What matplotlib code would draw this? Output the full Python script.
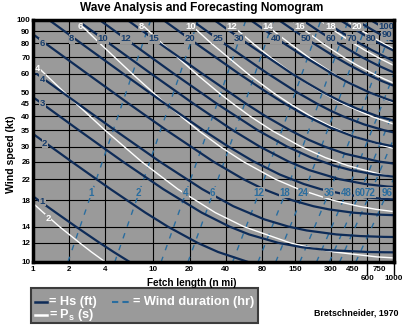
import matplotlib
matplotlib.use("Agg")
import matplotlib.pyplot as plt
from matplotlib.lines import Line2D
from matplotlib.patches import Rectangle
from matplotlib.ticker import NullLocator

plt.rcParams['font.family'] = ['Liberation Sans', 'DejaVu Sans']
plt.rcParams['font.weight'] = 'bold'
plt.rcParams['mathtext.fontset'] = 'custom'
plt.rcParams['mathtext.bf'] = 'Liberation Sans:bold'
plt.rcParams['mathtext.rm'] = 'Liberation Sans:bold'

# wave height curves, Hs in ft: fetch (n mi) vs wind speed (kt)
hs1_fetch = [0.83, 1.11, 1.55, 2.27, 3.58, 4.68, 6.37, 9.24]
hs1_wind = [20, 18, 16, 14, 12, 11, 10, 9]
hs2_fetch = [0.91, 1.40, 2.09, 4.41, 8.58, 13.2, 23.3, 34.5, 61.4, 99]
hs2_wind = [35, 30, 26, 20, 16, 14, 12, 11, 10, 9.5]
hs3_fetch = [0.89, 1.20, 2.41, 5.57, 12.1, 25.2, 43.0, 62.5, 109, 173, 281, 608, 840, 1456]
hs3_wind = [50, 45, 35, 26, 20, 16, 14, 13, 12, 11.5, 11.2, 11, 10.97, 10.95]
hs4_fetch = [0.70, 1.07, 2.38, 4.81, 11.3, 25.5, 46.2, 83.7, 133, 188, 332, 520, 820, 1243]
hs4_wind = [70, 60, 45, 35, 26, 20, 17, 15, 14, 13.5, 13, 12.8, 12.7, 12.66]
hs6_fetch = [0.92, 1.27, 2.82, 6.29, 12.9, 31.5, 55.9, 82.3, 142, 214, 288, 451, 735, 1261]
hs6_wind = [90, 80, 60, 45, 35, 26, 22, 20, 18, 17, 16.5, 16, 15.7, 15.55]
hs8_fetch = [1.36, 2.52, 5.61, 12.6, 26.1, 42.0, 68.4, 112, 178, 246, 397, 586, 859, 1387]
hs8_wind = [100, 80, 60, 45, 35, 30, 26, 23, 21, 20, 19, 18.5, 18.2, 18.0]
hs10_fetch = [2.32, 4.30, 9.58, 21.7, 45.9, 76.4, 133, 196, 350, 575, 881, 1411]
hs10_wind = [100, 80, 60, 45, 35, 30, 26, 24, 22, 21, 20.5, 20.2]
hs12_fetch = [3.58, 6.64, 14.8, 33.9, 73.9, 129, 205, 318, 435, 692, 1012]
hs12_wind = [100, 80, 60, 45, 35, 30, 27, 25, 24, 23, 22.5]
hs15_fetch = [6.09, 11.3, 25.5, 59.3, 85.9, 137, 195, 264, 393, 750, 1124]
hs15_wind = [100, 80, 60, 45, 40, 35, 32, 30, 28, 26, 25.3]
hs20_fetch = [12.1, 22.6, 51.4, 89.0, 125, 189, 292, 461, 721, 1008]
hs20_wind = [100, 80, 60, 50, 45, 40, 36, 33, 31, 30]
hs25_fetch = [20.7, 38.7, 89.5, 159, 231, 303, 376, 566, 831, 1082]
hs25_wind = [100, 80, 60, 50, 45, 42, 40, 37, 35, 34]
hs30_fetch = [32.0, 60.3, 142, 189, 263, 364, 494, 736, 1075]
hs30_wind = [100, 80, 60, 55, 50, 46, 43, 40, 38]
hs40_fetch = [64.1, 86.7, 122, 184, 306, 422, 636, 883, 1008]
hs40_wind = [100, 90, 80, 70, 60, 55, 50, 47, 46]
hs50_fetch = [110, 150, 215, 330, 428, 582, 789, 947, 1049]
hs50_wind = [100, 90, 80, 70, 65, 60, 56, 54, 53]
hs60_fetch = [173, 237, 344, 546, 731, 901, 1056]
hs60_wind = [100, 90, 80, 70, 65, 62, 60]
hs70_fetch = [254, 352, 520, 657, 864, 979, 1048]
hs70_wind = [100, 90, 80, 75, 70, 68, 67]
hs80_fetch = [356, 499, 607, 757, 978, 1036]
hs80_wind = [100, 90, 85, 80, 75, 74]
hs90_fetch = [483, 571, 687, 846, 972, 1021]
hs90_wind = [100, 95, 90, 85, 82, 81]
hs100_fetch = [638, 760, 925, 1007]
hs100_wind = [100, 95, 90, 88]

# wave period curves, Ps in s
ps2_fetch = [0.46, 0.74, 1.22, 1.66, 2.44, 3.06, 3.99, 4.64]
ps2_wind = [25, 20, 16, 14, 12, 11, 10, 9.5]
ps4_fetch = [0.91, 1.25, 2.30, 3.98, 7.97, 16.0, 32.7, 56.4, 137, 196, 318, 718, 1351]
ps4_wind = [70, 60, 45, 35, 26, 20, 16, 14, 12, 11.5, 11, 10.5, 10.3]
ps6_fetch = [2.26, 3.60, 6.66, 12.7, 23.6, 35.9, 55.8, 103, 161, 309, 507, 714, 1152]
ps6_wind = [100, 80, 60, 45, 35, 30, 26, 22, 20, 18, 17, 16.5, 16]
ps8_fetch = [7.34, 11.8, 22.6, 35.1, 46.1, 63.8, 96.1, 168, 269, 415, 782, 1271]
ps8_wind = [100, 80, 60, 50, 45, 40, 35, 30, 27, 25, 23, 22]
ps10_fetch = [18.5, 30.4, 60.9, 99.7, 137, 204, 311, 472, 858, 1129]
ps10_wind = [100, 80, 60, 50, 45, 40, 36, 33, 30, 29]
ps12_fetch = [39.9, 67.4, 94.3, 144, 186, 255, 377, 645, 1018]
ps12_wind = [100, 80, 70, 60, 55, 50, 45, 40, 37]
ps14_fetch = [77.7, 100, 136, 196, 315, 428, 631, 947, 1071]
ps14_wind = [100, 90, 80, 70, 60, 55, 50, 46, 45]
ps16_fetch = [141, 185, 255, 384, 495, 670, 833, 983, 1076]
ps16_wind = [100, 90, 80, 70, 65, 60, 57, 55, 54]
ps18_fetch = [241, 323, 462, 573, 735, 931, 1063]
ps18_wind = [100, 90, 80, 75, 70, 66, 64]
ps20_fetch = [399, 464, 548, 661, 817, 993, 1047]
ps20_wind = [100, 95, 90, 85, 80, 76, 75]

# wind duration lines, hr
dur_wind = [10, 20, 40, 100]
dur1_fetch = [1.95, 3.15, 5.08, 9.51]
dur2_fetch = [4.78, 7.79, 12.6, 23.7]
dur4_fetch = [11.6, 19.1, 31.2, 58.8]
dur6_fetch = [19.4, 32.2, 52.8, 100]
dur12_fetch = [45.6, 77.6, 129, 247]
dur18_fetch = [74.1, 129, 216, 418]
dur24_fetch = [104, 183, 310, 605]
dur36_fetch = [165, 296, 514, 1017]
dur48_fetch = [227, 415, 730, 999, 1123]
dur48_wind = [10, 20, 40, 60, 70]
dur60_fetch = [290, 536, 954, 1050]
dur60_wind = [10, 20, 40, 45]
dur72_fetch = [353, 659, 932, 1064]
dur72_wind = [10, 20, 30, 35]
dur96_fetch = [481, 657, 909, 1068]
dur96_wind = [10, 14, 20, 24]

# curve labels
hs_labels = ['1', '2', '3', '4', '6', '8', '10', '12', '15', '20', '25', '30',
             '40', '50', '60', '70', '80', '90', '100']
hs_label_fetch = [1.2, 1.25, 1.2, 1.2, 1.2, 2.1, 3.8, 5.9, 10.1, 20, 34.5, 52,
                  105, 185, 298, 445, 640, 870, 870]
hs_label_wind = [17.8, 31, 45, 57, 80, 83.5, 83.5, 83.5, 83.5, 83.5, 83.5, 83.5,
                 83.5, 83.5, 83.5, 83.5, 83.5, 87, 94]
ps_labels = ['2', '4', '6', '8', '10', '12', '14', '16', '18', '20']
ps_label_fetch = [1.33, 1.1, 2.45, 7.9, 20.3, 45, 89, 165, 295, 495]
ps_label_wind = [15.1, 63.3, 94, 94, 94, 94, 94, 94, 94, 94]
dur_labels = ['1', '2', '4', '6', '12', '18', '24', '36', '48', '60', '72', '96']
dur_label_fetch = [3.05, 7.55, 18.5, 31.2, 75, 124, 177, 287, 402, 520, 638, 880]
dur_label_wind = 19.3

x_ticks = [1, 2, 4, 10, 20, 40, 80, 150, 300, 450, 750]
x_ticks_low = [600, 1000]
y_ticks = [10, 12, 14, 18, 22, 26, 30, 35, 40, 45, 50, 60, 70, 80, 90, 100]

hs_curves = [(hs1_fetch, hs1_wind), (hs2_fetch, hs2_wind), (hs3_fetch, hs3_wind),
             (hs4_fetch, hs4_wind), (hs6_fetch, hs6_wind), (hs8_fetch, hs8_wind),
             (hs10_fetch, hs10_wind), (hs12_fetch, hs12_wind), (hs15_fetch, hs15_wind),
             (hs20_fetch, hs20_wind), (hs25_fetch, hs25_wind), (hs30_fetch, hs30_wind),
             (hs40_fetch, hs40_wind), (hs50_fetch, hs50_wind), (hs60_fetch, hs60_wind),
             (hs70_fetch, hs70_wind), (hs80_fetch, hs80_wind), (hs90_fetch, hs90_wind),
             (hs100_fetch, hs100_wind)]
ps_curves = [(ps2_fetch, ps2_wind), (ps4_fetch, ps4_wind), (ps6_fetch, ps6_wind),
             (ps8_fetch, ps8_wind), (ps10_fetch, ps10_wind), (ps12_fetch, ps12_wind),
             (ps14_fetch, ps14_wind), (ps16_fetch, ps16_wind), (ps18_fetch, ps18_wind),
             (ps20_fetch, ps20_wind)]
dur_curves = [(dur1_fetch, dur_wind), (dur2_fetch, dur_wind), (dur4_fetch, dur_wind),
              (dur6_fetch, dur_wind), (dur12_fetch, dur_wind), (dur18_fetch, dur_wind),
              (dur24_fetch, dur_wind), (dur36_fetch, dur_wind), (dur48_fetch, dur48_wind),
              (dur60_fetch, dur60_wind), (dur72_fetch, dur72_wind), (dur96_fetch, dur96_wind)]

BG = '#9a9a9a'
NAVY = '#0e2b57'
NAVY_TXT = '#173d6c'
DUR = '#2a6d9f'

fig = plt.figure(figsize=(4.1, 3.3), dpi=100)
ax = fig.add_axes([33 / 410, 68 / 330, 361 / 410, 242 / 330])
ax.set_xscale('log')
ax.set_yscale('log')
ax.set_xlim(1, 1000)
ax.set_ylim(10, 100)
ax.set_facecolor(BG)
ax.set_axisbelow(True)

for f, u in dur_curves:
    ax.plot(f, u, color=DUR, lw=1.0, linestyle=(0, (4, 5)), zorder=2)
for f, u in ps_curves:
    ax.plot(f, u, color='white', lw=1.0, zorder=3)
for f, u in hs_curves:
    ax.plot(f, u, color=NAVY, lw=1.6, zorder=4)

box = dict(boxstyle='square,pad=0.05', fc=BG, ec='none')
for s, f, u in zip(hs_labels, hs_label_fetch, hs_label_wind):
    ax.text(f, u, s, color=NAVY_TXT, fontsize=6.8, ha='center', va='center', bbox=box, zorder=6)
for s, f, u in zip(ps_labels, ps_label_fetch, ps_label_wind):
    ax.text(f, u, s, color='white', fontsize=6.8, ha='center', va='center', bbox=box, zorder=6)
for s, f in zip(dur_labels, dur_label_fetch):
    ax.text(f, dur_label_wind, s, color=DUR, fontsize=7, ha='center', va='center',
            bbox=box, zorder=6)

ax.set_xticks(x_ticks)
ax.set_xticklabels([str(v) for v in x_ticks])
ax.set_xticks(x_ticks_low, minor=True)
ax.set_xticklabels([str(v) for v in x_ticks_low], minor=True)
ax.set_yticks(y_ticks)
ax.set_yticklabels([str(v) for v in y_ticks])
ax.yaxis.set_minor_locator(NullLocator())
ax.tick_params(axis='x', which='major', length=0, pad=3, labelsize=5.8)
ax.tick_params(axis='x', which='minor', length=9, width=1, pad=0.5, labelsize=5.8)
ax.tick_params(axis='y', which='both', length=0, pad=2, labelsize=5.8)
ax.grid(True, which='both', axis='x', color='black', lw=0.8)
ax.grid(True, which='major', axis='y', color='black', lw=0.8)
for sp in ax.spines.values():
    sp.set_linewidth(2.5)
    sp.set_zorder(7)

fig.text(0.493, 0.976, 'Wave Analysis and Forecasting Nomogram', ha='center', va='center',
         fontsize=8.6)
fig.text(0.026, 0.533, 'Wind speed (kt)', rotation=90, ha='center', va='center', fontsize=7.6)
fig.text(0.468, 0.142, 'Fetch length (n mi)', ha='center', va='center', fontsize=7.2)
fig.text(0.868, 0.052, 'Bretschneider, 1970', ha='center', va='center', fontsize=6.4)

# legend box
fig.patches.append(Rectangle((31 / 410, 7 / 330), 227 / 410, 35 / 330, transform=fig.transFigure,
                             fc=BG, ec='#3c3c3c', lw=1.5))
fig.lines.append(Line2D([35 / 410, 47 / 410], [0.085, 0.085], transform=fig.transFigure,
                        color=NAVY, lw=1.8))
fig.lines.append(Line2D([112 / 410, 130 / 410], [0.085, 0.085], transform=fig.transFigure,
                        color=DUR, lw=1.5, linestyle=(0, (3, 2))))
fig.lines.append(Line2D([35 / 410, 47 / 410], [0.046, 0.046], transform=fig.transFigure,
                        color='white', lw=1.8))
fig.text(49 / 410, 0.085, '= Hs (ft)', color='white', fontsize=9.2, va='center')
fig.text(133 / 410, 0.085, '= Wind duration (hr)', color='white', fontsize=9.2, va='center')
fig.text(49 / 410, 0.046, r'= P$_\mathbf{s}$ (s)', color='white', fontsize=9.2, va='center')

plt.savefig('out.png', dpi=100)
